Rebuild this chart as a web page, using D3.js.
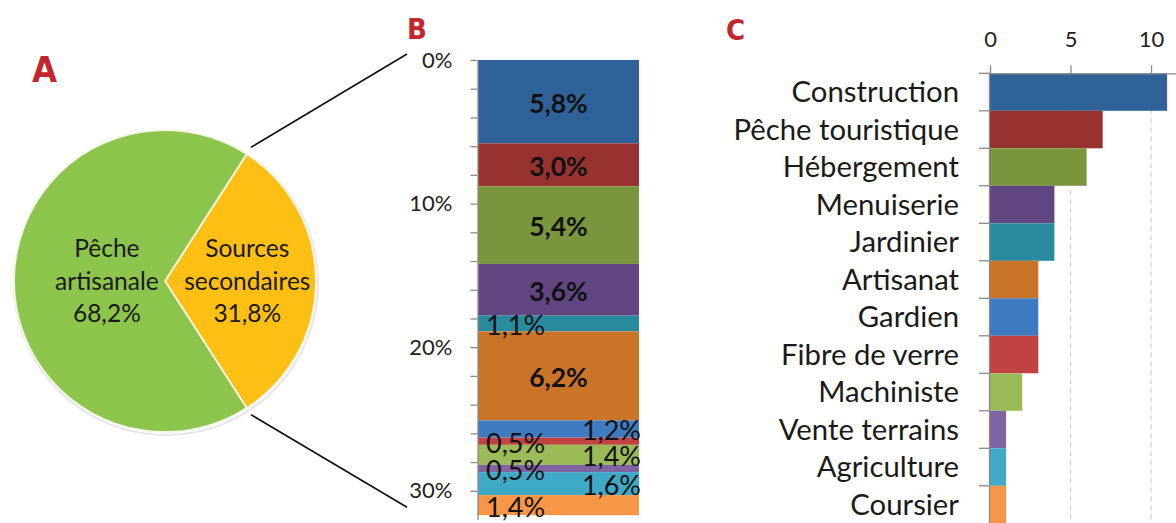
<!DOCTYPE html>
<html><head><meta charset="utf-8">
<script src="https://cdn.jsdelivr.net/npm/d3@7"></script>
<style>body{margin:0;background:#fff}svg{display:block;font-family:Lato,"Open Sans",sans-serif}</style>
</head><body><svg id="c" width="1176" height="523"></svg>
<script>
// ---------- data ----------
const pieLabels = ["Pêche artisanale", "Sources secondaires"];
const pieValues = [68.2, 31.8];
const categories = ["Construction", "Pêche touristique", "Hébergement", "Menuiserie", "Jardinier", "Artisanat",
  "Gardien", "Fibre de verre", "Machiniste", "Vente terrains", "Agriculture", "Coursier"];
const sharePct = [5.8, 3.0, 5.4, 3.6, 1.1, 6.2, 1.2, 0.5, 1.4, 0.5, 1.6, 1.4];
const jobCounts = [11, 7, 6, 4, 4, 3, 3, 3, 2, 1, 1, 1];
const stackTicks = [0, 10, 20, 30];
const countTicks = [0, 5, 10];
const panelLetters = ["A", "B", "C"];

// ---------- styles ----------
const palette = ["#30629A", "#983231", "#7A963C", "#624682", "#2A8A9E", "#CA7428",
  "#3F7BC0", "#C04342", "#9BBB59", "#8064A2", "#3EAAC7", "#F79646"];
const pieColors = ["#8DC44B", "#FDBF14"];
const letterColor = "#C1272D";
const textColor = "#1a1a1a";
const fmt = v => d3.format(".1f")(v).replace(".", ",") + "%";

const svg = d3.select("#c");

// ---------- A: pie ----------
const cx = 165, cy = 281, R = 151;
const pieOrder = [1, 0]; // secondary sources drawn first (right side)
const startA = Math.PI / 2 - (pieValues[1] / 100) * Math.PI;
const pie = d3.pie().sort(null).value(i => pieValues[i]).startAngle(startA).endAngle(startA + 2 * Math.PI);
const arcs = pie(pieOrder);
const arc = d3.arc().innerRadius(0).outerRadius(R);
const gPie = svg.append("g").attr("transform", `translate(${cx},${cy})`);
gPie.append("circle").attr("r", R + 1).attr("fill", "none").attr("stroke", "#e6e6e6").attr("stroke-width", 2).attr("transform","translate(1,2)");
gPie.selectAll("path.slice").data(arcs).join("path")
  .attr("d", arc).attr("fill", d => pieColors[d.data])
  .attr("stroke", "#f4f6e6").attr("stroke-width", 1.8);
const labelR = {0: 0.385, 1: 0.545};
arcs.forEach(a => {
  const mid = (a.startAngle + a.endAngle) / 2;
  const r = R * labelR[a.data];
  const lx = Math.sin(mid) * r, ly = -Math.cos(mid) * r;
  const words = pieLabels[a.data].split(" ");
  const lines = [...words, fmt(pieValues[a.data])];
  const t = gPie.append("text").attr("text-anchor", "middle").attr("font-size", 24.5).attr("fill", textColor);
  lines.forEach((ln, i) => {
    t.append("tspan").attr("x", lx).attr("y", ly + (i - (lines.length - 1) / 2) * 32.5).attr("dy", "0.35em").text(ln);
  });
});

// ---------- B: stacked bar ----------
const yS = d3.scaleLinear().domain([0, 32]).range([60, 519.5]);
const bx0 = 478, bx1 = 639;
const cum = d3.cumsum(sharePct);
const segs = sharePct.map((v, i) => ({v, i, y0: cum[i] - v, y1: cum[i]}));
svg.append("g").selectAll("rect").data(segs).join("rect")
  .attr("x", bx0).attr("width", bx1 - bx0)
  .attr("y", d => yS(d.y0)).attr("height", d => yS(d.y1) - yS(d.y0))
  .attr("fill", d => palette[d.i]);
const axB = svg.append("g").attr("transform", `translate(${bx0 - 0.5},0)`)
  .call(d3.axisLeft(yS).tickValues(d3.range(0, 32, 2)).tickSize(7).tickSizeOuter(0).tickPadding(18)
    .tickFormat(d => stackTicks.includes(d) ? d + "%" : ""));
axB.select(".domain").attr("stroke", "#8a8a8a").attr("stroke-width", 1.3);
axB.selectAll(".tick line").attr("stroke", "#8a8a8a").attr("stroke-width", 1.3);
axB.selectAll(".tick text").attr("font-size", 22).attr("font-family", "Lato").attr("fill", "#222");
let k = 0;
segs.forEach(d => {
  const yc = (yS(d.y0) + yS(d.y1)) / 2 + 2;
  const t = svg.append("text").attr("y", yc).attr("dy", "0.35em").attr("fill", "#111").text(fmt(d.v));
  if (d.v >= 3) {
    t.attr("x", (bx0 + bx1) / 2).attr("text-anchor", "middle").attr("font-weight", "bold").attr("font-size", 26.5);
  } else {
    if (k % 2 === 0) t.attr("x", bx0 + 8).attr("text-anchor", "start");
    else t.attr("x", bx1 + 2).attr("text-anchor", "end");
    t.attr("font-size", 27);
    k++;
  }
});

// connector lines
const a0 = startA, a1 = startA + (pieValues[1] / 100) * 2 * Math.PI;
const Rc = R + 8;
svg.append("line").attr("x1", cx + Math.sin(a0) * Rc).attr("y1", cy - Math.cos(a0) * Rc)
  .attr("x2", 407).attr("y2", yS(0) - 6).attr("stroke", "#111").attr("stroke-width", 1.6);
svg.append("line").attr("x1", cx + Math.sin(a1) * Rc).attr("y1", cy - Math.cos(a1) * Rc)
  .attr("x2", 407).attr("y2", yS(cum[cum.length - 1]) - 8).attr("stroke", "#111").attr("stroke-width", 1.6);

// ---------- C: horizontal bars ----------
const xC = d3.scaleLinear().domain([0, 12]).range([990, 990 + 12 * 16.1]);
const yC = d3.scaleBand().domain(categories).range([73.3, 73.3 + 12 * 37.5]).padding(0);
const gC = svg.append("g");
gC.selectAll("line.grid").data(countTicks.filter(d => d > 0)).join("line")
  .attr("x1", d => xC(d)).attr("x2", d => xC(d)).attr("y1", yC.range()[0]).attr("y2", 523)
  .attr("stroke", "#cfcfcf").attr("stroke-width", 1.2).attr("stroke-dasharray", "5,4");
gC.selectAll("rect").data(categories).join("rect")
  .attr("x", xC(0)).attr("y", d => yC(d)).attr("height", yC.bandwidth())
  .attr("width", (d, i) => xC(jobCounts[i]) - xC(0)).attr("fill", (d, i) => palette[i]);
const axT = svg.append("g").attr("transform", `translate(0,${yC.range()[0]})`)
  .call(d3.axisTop(xC).tickValues(countTicks).tickSize(8).tickSizeOuter(0).tickPadding(18));
axT.select(".domain").attr("stroke", "#8a8a8a").attr("stroke-width", 1.3);
axT.selectAll(".tick line").attr("stroke", "#8a8a8a").attr("stroke-width", 1.3);
axT.selectAll(".tick text").attr("font-size", 22).attr("font-family", "Lato").attr("fill", "#222");
// category axis
gC.append("line").attr("x1", xC(0) - 0.5).attr("x2", xC(0) - 0.5).attr("y1", yC.range()[0]).attr("y2", 523)
  .attr("stroke", "#8a8a8a").attr("stroke-width", 1.3);
gC.selectAll("line.ctick").data(categories).join("line")
  .attr("x1", xC(0) - 11).attr("x2", xC(0)).attr("y1", d => yC(d)).attr("y2", d => yC(d))
  .attr("stroke", "#8a8a8a").attr("stroke-width", 1.3);
gC.selectAll("text.cat").data(categories).join("text")
  .attr("x", xC(0) - 31).attr("y", d => yC(d) + yC.bandwidth() / 2).attr("dy", "0.35em")
  .attr("text-anchor", "end").attr("font-size", 29.3).attr("fill", textColor).text(d => d);

// ---------- panel letters ----------
const letterPos = [[32, 82, 36], [407, 39, 29], [726, 40, 29]];
panelLetters.forEach((L, i) => {
  svg.append("text").attr("x", letterPos[i][0]).attr("y", letterPos[i][1])
    .attr("font-family", "'DejaVu Sans Condensed','DejaVu Sans',sans-serif").attr("font-weight", "bold")
    .attr("font-size", letterPos[i][2]).attr("fill", letterColor).text(L);
});
</script></body></html>
